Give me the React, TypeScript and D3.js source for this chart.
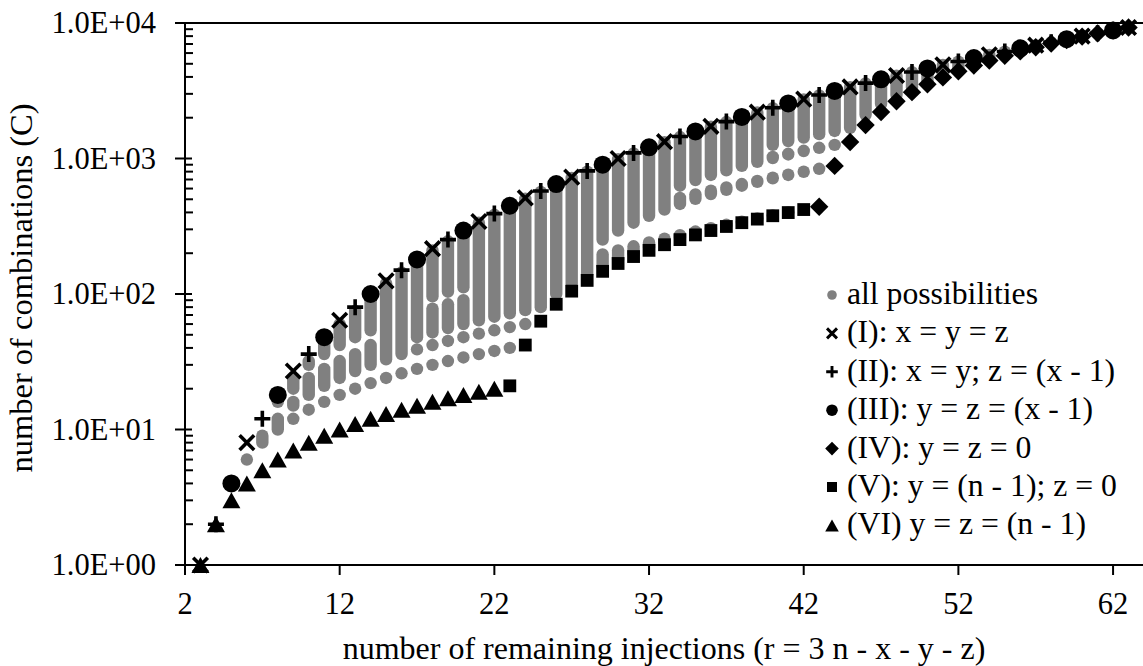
import React from 'react';
import * as d3 from 'd3';

const W = 1143;
const H = 666;

// axis ticks
const xTicks = [2, 12, 22, 32, 42, 52, 62];
const yTicks = [1, 10, 100, 1000, 10000];
const yTickLabels = ['1.0E+00', '1.0E+01', '1.0E+02', '1.0E+03', '1.0E+04'];

// (I): x = y = z
const rI = [3, 6, 9, 12, 15, 18, 21, 24, 27, 30, 33, 36, 39, 42, 45, 48, 51, 54, 57, 60, 63];
const cI = [1, 8, 27, 64, 125, 216, 343, 512, 729, 1000, 1331, 1728, 2197, 2744, 3375, 4096, 4913, 5832, 6859, 8000, 9261];
// (II): x = y; z = (x - 1)
const rII = [4, 7, 10, 13, 16, 19, 22, 25, 28, 31, 34, 37, 40, 43, 46, 49, 52, 55, 58, 61];
const cII = [2, 12, 36, 80, 150, 252, 392, 576, 810, 1100, 1452, 1872, 2366, 2940, 3600, 4352, 5202, 6156, 7220, 8400];
// (III): y = z = (x - 1)
const rIII = [5, 8, 11, 14, 17, 20, 23, 26, 29, 32, 35, 38, 41, 44, 47, 50, 53, 56, 59, 62];
const cIII = [4, 18, 48, 100, 180, 294, 448, 648, 900, 1210, 1584, 2028, 2548, 3150, 3840, 4624, 5508, 6498, 7600, 8820];
// (IV): y = z = 0
const rIV = [43, 44, 45, 46, 47, 48, 49, 50, 51, 52, 53, 54, 55, 56, 57, 58, 59, 60, 61, 62, 63];
const cIV = [441, 882, 1323, 1764, 2205, 2646, 3087, 3528, 3969, 4410, 4851, 5292, 5733, 6174, 6615, 7056, 7497, 7938, 8379, 8820, 9261];
// (V): y = (n - 1); z = 0
const rV = [23, 24, 25, 26, 27, 28, 29, 30, 31, 32, 33, 34, 35, 36, 37, 38, 39, 40, 41, 42];
const cV = [21, 42, 63, 84, 105, 126, 147, 168, 189, 210, 231, 252, 273, 294, 315, 336, 357, 378, 399, 420];
// (VI) y = z = (n - 1)
const rVI = [3, 4, 5, 6, 7, 8, 9, 10, 11, 12, 13, 14, 15, 16, 17, 18, 19, 20, 21, 22];
const cVI = [1, 2, 3, 4, 5, 6, 7, 8, 9, 10, 11, 12, 13, 14, 15, 16, 17, 18, 19, 20];

// all possibilities: runs of stacked grey points per r  [r, lowest C, highest C]
const greyRuns: [number, number, number][] = [
  [6, 6, 6],
  [7, 8, 9],
  [8, 10, 12], [8, 16, 16],
  [9, 12, 12], [9, 15, 16], [9, 20, 24],
  [10, 14, 14], [10, 18, 24], [10, 30, 32],
  [11, 16, 16], [11, 21, 28], [11, 36, 45],
  [12, 18, 18], [12, 24, 32], [12, 42, 60],
  [13, 20, 20], [13, 27, 36], [13, 48, 75],
  [14, 22, 22], [14, 30, 42], [14, 54, 96],
  [15, 24, 24], [15, 33, 120],
  [16, 26, 26], [16, 36, 144],
  [17, 28, 28], [17, 39, 39], [17, 48, 175],
  [18, 30, 30], [18, 42, 42], [18, 52, 78], [18, 96, 210],
  [19, 32, 32], [19, 45, 45], [19, 56, 84], [19, 104, 245],
  [20, 34, 34], [20, 48, 48], [20, 60, 90], [20, 112, 288],
  [21, 36, 36], [21, 51, 51], [21, 64, 336],
  [22, 38, 38], [22, 54, 54], [22, 68, 384],
  [23, 40, 40], [23, 57, 57], [23, 72, 441],
  [24, 60, 60], [24, 76, 504],
  [25, 80, 567],
  [26, 100, 640],
  [27, 120, 720],
  [28, 140, 800],
  [29, 160, 196], [29, 252, 891],
  [30, 180, 210], [30, 294, 990],
  [31, 200, 225], [31, 336, 1089],
  [32, 220, 240], [32, 378, 1200],
  [33, 240, 256], [33, 420, 1320],
  [34, 260, 272], [34, 462, 512], [34, 630, 1440],
  [35, 280, 289], [35, 504, 544], [35, 693, 1573],
  [36, 300, 306], [36, 546, 578], [36, 756, 1716],
  [37, 320, 324], [37, 588, 612], [37, 819, 1859],
  [38, 340, 342], [38, 630, 648], [38, 882, 2016],
  [39, 360, 361], [39, 672, 684], [39, 945, 2184],
  [40, 380, 380], [40, 714, 722], [40, 1008, 1026], [40, 1260, 2352],
  [41, 400, 400], [41, 756, 760], [41, 1071, 1083], [41, 1344, 2535],
  [42, 798, 800], [42, 1134, 1140], [42, 1428, 2730],
  [43, 840, 840], [43, 1197, 1200], [43, 1512, 2925],
  [44, 1260, 1260], [44, 1596, 3136],
  [45, 1680, 3360],
  [46, 2100, 3584],
  [47, 2520, 3825],
  [48, 2940, 4080],
  [49, 3360, 4335],
  [50, 3780, 4608],
  [51, 4200, 4896],
  [52, 4620, 5184],
  [53, 5040, 5491],
  [54, 5460, 5814],
  [55, 5880, 6137],
  [56, 6300, 6480],
  [57, 6720, 6840],
  [58, 7140, 7200],
  [59, 7560, 7581],
  [60, 7980, 7980],
];

const legendLabels = [
  'all possibilities',
  '(I): x = y = z',
  '(II): x = y; z = (x - 1)',
  '(III): y = z = (x - 1)',
  '(IV): y = z = 0',
  '(V): y = (n - 1); z = 0',
  '(VI) y = z = (n - 1)',
];
const legendKinds = ['grey', 'cross', 'plus', 'circle', 'diamond', 'square', 'triangle'];

const GREY = '#808080';
const FONT = '"Liberation Serif", "Times New Roman", Times, serif';

type Sz = { grey: number; circle: number; cross: number; crossW: number; plus: number; plusW: number; diamond: number; square: number; triW: number; triH: number };
const plotSize: Sz = { grey: 6, circle: 9, cross: 7.3, crossW: 3.6, plus: 8, plusW: 3.6, diamond: 9.2, square: 6.4, triW: 9, triH: 8 };
const legendSize: Sz = { grey: 4.8, circle: 5.8, cross: 5, crossW: 2.9, plus: 5.8, plusW: 2.9, diamond: 6.8, square: 5, triW: 6.8, triH: 6 };

function Marker({ kind, z }: { kind: string; z: Sz }) {
  if (kind === 'grey') return <circle r={z.grey} fill={GREY} />;
  if (kind === 'circle') return <circle r={z.circle} fill="#000" />;
  if (kind === 'cross') {
    const a = z.cross;
    return <path d={`M${-a},${-a}L${a},${a}M${-a},${a}L${a},${-a}`} stroke="#000" strokeWidth={z.crossW} fill="none" />;
  }
  if (kind === 'plus') {
    const a = z.plus;
    return <path d={`M${-a},0H${a}M0,${-a}V${a}`} stroke="#000" strokeWidth={z.plusW} fill="none" />;
  }
  if (kind === 'diamond') {
    const a = z.diamond;
    return <path d={`M0,${-a}L${a},0L0,${a}L${-a},0Z`} fill="#000" />;
  }
  if (kind === 'square') {
    const a = z.square;
    return <rect x={-a} y={-a} width={2 * a} height={2 * a} fill="#000" />;
  }
  const w = z.triW;
  const h = z.triH;
  return <path d={`M0,${-h}L${w},${h}L${-w},${h}Z`} fill="#000" />;
}

export default function App() {
  const x = d3.scaleLinear().domain([2, 64]).range([185, 1144]);
  const y = d3.scaleLog().domain([1, 10000]).range([565, 23]);
  const minorTicks = y.ticks().filter((t) => !yTicks.includes(t));
  const R = 6.2;

  const series = [
    { kind: 'triangle', r: rVI, c: cVI },
    { kind: 'square', r: rV, c: cV },
    { kind: 'diamond', r: rIV, c: cIV },
    { kind: 'circle', r: rIII, c: cIII },
    { kind: 'plus', r: rII, c: cII },
    { kind: 'cross', r: rI, c: cI },
  ];

  return (
    <svg width={W} height={H} style={{ position: 'absolute', left: 0, top: 0, background: '#fff' }} fontFamily={FONT}>
      <rect width={W} height={H} fill="#fff" />
      <g fill={GREY}>
        {greyRuns.map(([r, lo, hi], i) => {
          const y1 = y(hi);
          const y2 = y(lo);
          return <rect key={i} x={x(r) - R} y={y1 - R} width={2 * R} height={y2 - y1 + 2 * R} rx={R} ry={R} />;
        })}
      </g>
      {series.map((s) => (
        <g key={s.kind}>
          {s.r.map((rv, i) => (
            <g key={i} transform={`translate(${x(rv)},${y(s.c[i])})`}>
              <Marker kind={s.kind} z={plotSize} />
            </g>
          ))}
        </g>
      ))}
      <g stroke="#000" strokeWidth={2}>
        <line x1={185} x2={185} y1={23} y2={575} />
        <line x1={175} x2={1143} y1={565} y2={565} />
        <line x1={175} x2={1143} y1={23} y2={23} />
        {yTicks.map((t) => (
          <line key={t} x1={175} x2={192} y1={y(t)} y2={y(t)} />
        ))}
        {minorTicks.map((t) => (
          <line key={t} x1={185} x2={193} y1={y(t)} y2={y(t)} />
        ))}
        {xTicks.map((t) => (
          <line key={t} x1={x(t)} x2={x(t)} y1={565} y2={575} />
        ))}
      </g>
      <g fontSize={30.5} fill="#000">
        {yTicks.map((t, i) => (
          <text key={t} x={156} y={y(t) + 10} textAnchor="end">
            {yTickLabels[i]}
          </text>
        ))}
        {xTicks.map((t) => (
          <text key={t} x={x(t)} y={614} textAnchor="middle">
            {t}
          </text>
        ))}
      </g>
      <text x={664} y={659} textAnchor="middle" fontSize={32} fill="#000">
        number of remaining injections (r = 3 n - x - y - z)
      </text>
      <text transform="translate(32,288) rotate(-90)" textAnchor="middle" fontSize={32.5} fill="#000">
        number of combinations (C)
      </text>
      <g fontSize={31.7} fill="#000">
        {legendLabels.map((lab, i) => {
          const cy = 296 + 38.4 * i;
          return (
            <g key={lab}>
              <g transform={`translate(832,${cy - 1})`}>
                <Marker kind={legendKinds[i]} z={legendSize} />
              </g>
              <text x={847} y={cy + 8}>
                {lab}
              </text>
            </g>
          );
        })}
      </g>
    </svg>
  );
}
